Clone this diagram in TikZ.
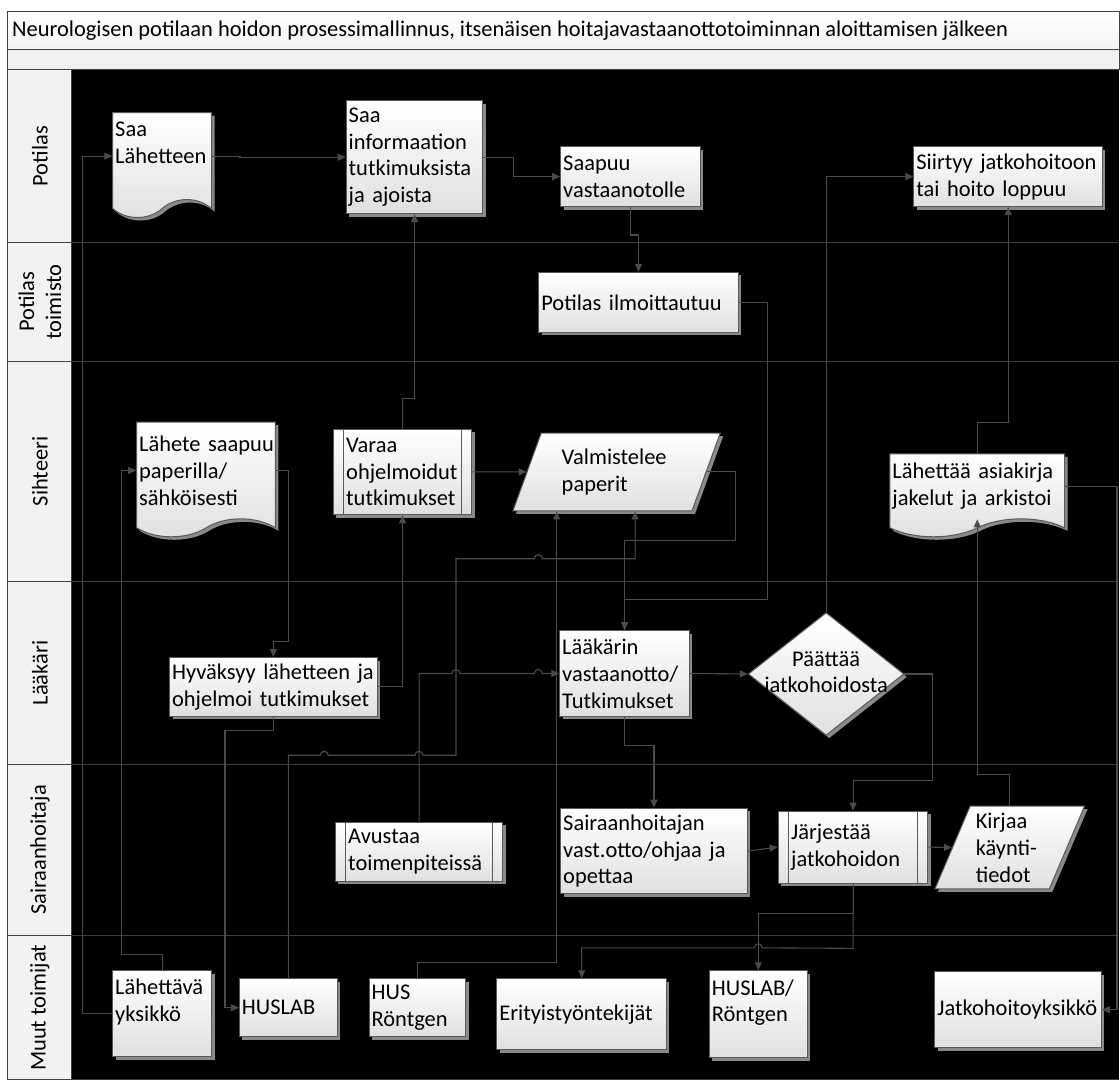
\documentclass[tikz,border=0pt]{standalone}
\usepackage{fontspec}
\setmainfont{Carlito}
\usepackage{tikz}
\usetikzlibrary{arrows.meta,positioning,shapes.geometric,shapes.symbols,shadows}
\definecolor{Lane}{HTML}{404040}
\definecolor{Wire}{HTML}{4B4B4B}
\definecolor{Edge}{HTML}{595959}
\definecolor{Head}{HTML}{F2F2F2}
\definecolor{Shade}{HTML}{E0E0E0}
\definecolor{Shadow}{HTML}{8A8A8A}
\hyphenpenalty=10000
\exhyphenpenalty=10000

\begin{document}
\begin{tikzpicture}[
    x=1pt,y=-1pt,
    font=\fontsize{22.5pt}{27pt}\selectfont,
    taskbox/.style={draw=Edge,line width=1pt,top color=white,bottom color=Shade,
      drop shadow={shadow xshift=3pt,shadow yshift=-3pt,fill=Shadow,opacity=1},
      align=left,inner xsep=2.5pt,inner ysep=0pt},
    subbox/.style={taskbox,inner xsep=13pt,path picture={
      \draw[draw=Edge,line width=1pt]
        ([xshift=10.5pt]path picture bounding box.north west) -- ([xshift=10.5pt]path picture bounding box.south west)
        ([xshift=-10.5pt]path picture bounding box.north east) -- ([xshift=-10.5pt]path picture bounding box.south east);}},
    docbox/.style={taskbox,tape,tape bend top=none,tape bend bottom=in and out,tape bend height=18pt},
    databox/.style={taskbox,trapezium,trapezium left angle=65,trapezium right angle=115,
      trapezium stretches=true},
    choicebox/.style={taskbox,diamond,align=center,text width=128pt,inner xsep=-28pt,inner ysep=-12pt,
      minimum width=156pt,minimum height=123pt},
    lanehead/.style={draw=Lane,line width=1pt,fill=Head},
    laneline/.style={draw=Lane,line width=1.1pt},
    lanelbl/.style={rotate=90,align=center},
    link/.style={draw=Wire,line width=1.1pt,-{Triangle[length=8pt,width=7pt]}}
]
% frame
\fill[white] (0,0) rectangle (1120,1079);
\draw[draw=Lane,line width=1pt,top color=white,bottom color=black!5] (8,12) rectangle (1122,50);
\node[anchor=west,inner sep=0pt] (title) at (12,31) {Neurologisen potilaan hoidon prosessimallinnus, itsenäisen hoitajavastaanottotoiminnan aloittamisen jälkeen};
\draw[draw=Lane,line width=1pt,fill=black!6] (8,50) rectangle (1122,70);
\fill[black] (72,70) rectangle (1122,1082);
\foreach \ya/\yb/\lbl [count=\i] in {70/243/Potilas,243/362/{Potilas\\toimisto},362/583/Sihteeri,
    583/766/Lääkäri,766/938/Sairaanhoitaja,938/1082/Muut toimijat}{
  \draw[lanehead] (8,\ya) rectangle (72,\yb);
  \draw[laneline] (72,\yb) -- (1122,\yb);
  \node[lanelbl] (lane\i) at (40,{(\ya+\yb)/2}) {\lbl};
}

% Potilas
\node[docbox,text width=94pt,minimum height=105pt] (saalahete) at (162.5,156.5) {Saa\\Lähetteen\\~};
\node[taskbox,text width=132pt,minimum height=113pt] (saainfo) at (415.5,157.5) {Saa\\informaation\\tutkimuksista\\ja~ajoista};
\node[taskbox,text width=135pt,minimum height=60pt] (saapuu) at (632,177) {Saapuu\\vastaanotolle};
\node[taskbox,text width=184pt,minimum height=60pt,right=213pt of saapuu] (siirtyy) {Siirtyy~jatkohoitoon\\tai~hoito~loppuu};

% Potilastoimisto
\node[taskbox,text width=195pt,minimum height=60pt] (ilmoitt) at (640,303) {Potilas~ilmoittautuu};

% Sihteeri
\node[docbox,text width=134pt,minimum height=115pt] (lahete) at (206.5,471.5) {Lähete~saapuu\\paperilla/\\sähköisesti};
\node[subbox,text width=113pt,minimum height=86pt] (varaa) at (403.5,473) {Varaa\\ohjelmoidut\\tutkimukset};
\node[databox,text width=110pt,minimum width=208pt,minimum height=78pt] (valm) at (618,473) {Valmistelee\\paperit};
\node[docbox,text width=170pt,minimum height=83pt] (lahettaa) at (979.5,487.5) {Lähettää~asiakirja\\jakelut~ja~arkistoi};

% Lääkäri
\node[taskbox,text width=203pt,minimum height=59pt] (hyvaksyy) at (274,688.5) {Hyväksyy~lähetteen~ja\\ohjelmoi~tutkimukset};
\node[taskbox,text width=125pt,minimum height=86pt] (laakarin) at (626,675) {Lääkärin\\vastaanotto/\\Tutkimukset};
\node[choicebox] (paattaa) at (828,675.5) {Päättää\\jatkohoidosta};

% Sairaanhoitaja
\node[subbox,text width=142pt,minimum height=59pt] (avustaa) at (420,853.5) {Avustaa\\toimenpiteissä};
\node[taskbox,text width=182pt,minimum height=86pt] (sairaan) at (655.5,853) {Sairaanhoitajan\\vast.otto/ohjaa~ja\\opettaa};
\node[subbox,text width=124pt,minimum height=72pt] (jarjestaa) at (855,849) {Järjestää\\jatkohoidon};
\node[databox,text width=68pt,minimum width=150pt,minimum height=83pt] (kirjaa) at (1012,849.5) {Kirjaa\\käynti-\\tiedot};

% Muut toimijat
\node[taskbox,text width=94pt,minimum height=86pt] (lahettava) at (162.5,1016) {Lähettävä\\yksikkö\\~};
\node[taskbox,text width=93pt,minimum height=58pt] (huslab) at (289,1010) {HUSLAB};
\node[taskbox,text width=92pt,minimum height=58pt,right=31pt of huslab] (husrontgen) {HUS\\Röntgen};
\node[taskbox,text width=165pt,minimum height=71pt] (erityis) at (583,1016.5) {Erityistyöntekijät};
\node[taskbox,text width=93pt,minimum height=87pt] (huslabront) at (760,1016.5) {HUSLAB/\\Röntgen\\~};
\node[taskbox,text width=162pt,minimum height=76pt] (jatkoyks) at (1020.5,1012) {Jatkohoitoyksikkö};

% connectors
\draw[link] (lahettava.west) -- ++(-30,0) |- (saalahete.west);
\draw[link] (lahettava.north) -- ++(0,-16) -| ([xshift=-15pt]lahete.west) -- (lahete.west);
\draw[link] (saalahete.east) -- ++(28,0) |- (saainfo.west);
\draw[link] (saainfo.east) -- ++(30,0) |- (saapuu.west);
\draw[link] (saapuu.south) -- ++(0,28) -| (ilmoitt.north);
\draw[link] (ilmoitt.east) -- ++(29,0) |- ([yshift=31pt]laakarin.north) -- (laakarin.north);
\draw[link] (varaa.east) -- (valm.west);
\draw[link] (valm.east) -- ++(29,0) -- ++(0,69) -| (laakarin.north);
\draw[link] (hyvaksyy.east) -| (varaa.south);
\draw[link] (varaa.north) -- ++(0,-30) -| (saainfo.south);
\draw[link] (lahete.east) -- ++(13,0) |- ([yshift=16pt]hyvaksyy.north) -- (hyvaksyy.north);
\draw[link] (hyvaksyy.south) -- ++(0,14) -| ([xshift=-14pt]huslab.west) -- (huslab.west);
\draw[link] (huslab.north) |- (321,757) arc[start angle=180,end angle=0,radius=4pt]
  -- (416,757) arc[start angle=180,end angle=0,radius=4pt]
  -- (457,757) |- (535.5,560) arc[start angle=180,end angle=0,radius=4pt]
  -| ([xshift=18.5pt]valm.south);
\draw[link] (husrontgen.north) -- ++(0,-16) -| ([xshift=-60pt]valm.south);
\draw[link] (avustaa.north) |- (453,675) arc[start angle=180,end angle=0,radius=4pt]
  -- (535.5,675) arc[start angle=180,end angle=0,radius=4pt] -- (laakarin.west);
\draw[link] (laakarin.east) -- (paattaa.west);
\draw[link] (laakarin.south) -- ++(0,29) -| (sairaan.north);
\draw[link] (paattaa.north) |- (siirtyy.west);
\draw[link] (paattaa.east) -- ++(28,0) |- ([yshift=30pt]jarjestaa.north) -- (jarjestaa.north);
\draw[link] (kirjaa.north) -- ++(0,-31) -| (lahettaa.south);
\draw[link] (lahettaa.north) -- ++(0,-31) -| (siirtyy.south);
\draw[link] (lahettaa.east) -- ++(52,0) |- (jatkoyks.east);
\draw[link] (sairaan.east) -- (jarjestaa.west);
\draw[link] (jarjestaa.east) -- (kirjaa.west);
\draw[link] (jarjestaa.south) -- ++(0,30) -| (huslabront.north);
\draw[link] (jarjestaa.south) -- ++(0,65) -- (764,950) arc[start angle=0,end angle=180,radius=4pt] -| (erityis.north);
\end{tikzpicture}
\end{document}
